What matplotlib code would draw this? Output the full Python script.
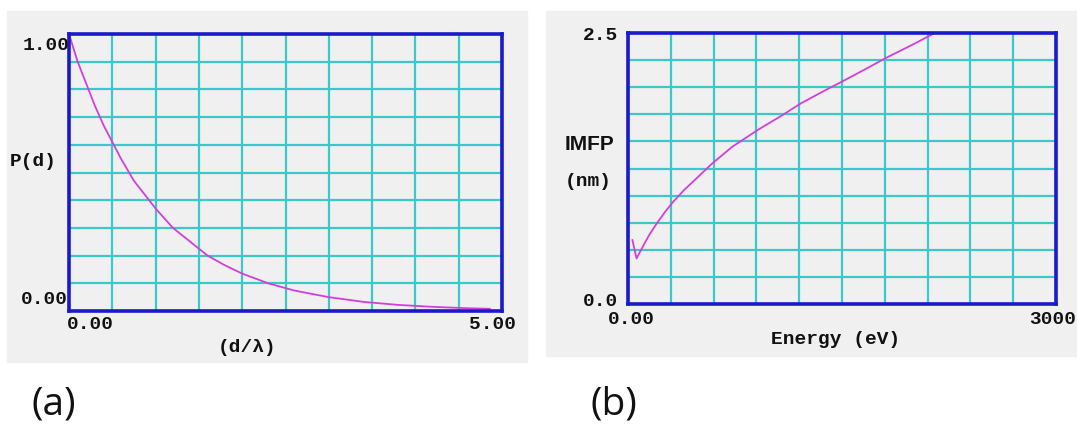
import numpy as np
import matplotlib
matplotlib.use("Agg")
import matplotlib.pyplot as plt
from matplotlib.patches import Rectangle

# (a) attenuation probability vs depth
d_ratio = [0.0, 0.1, 0.2, 0.3, 0.4, 0.5, 0.6, 0.75, 0.9, 1.0, 1.2, 1.4, 1.6, 1.8,
           2.0, 2.3, 2.6, 3.0, 3.4, 3.8, 4.2, 4.6, 4.86]
p_d = [1.00, 0.90, 0.82, 0.74, 0.67, 0.61, 0.55, 0.47, 0.41, 0.37, 0.30, 0.25, 0.20, 0.165,
       0.135, 0.10, 0.074, 0.05, 0.033, 0.022, 0.015, 0.010, 0.008]

# (b) inelastic mean free path vs energy
energy = [31, 60, 100, 150, 200, 260, 315, 392, 489, 585, 730, 915, 1067, 1211,
          1380, 1512, 1669, 1808, 2006, 2150]
imfp = [0.59, 0.42, 0.52, 0.64, 0.74, 0.85, 0.94, 1.05, 1.17, 1.29, 1.45, 1.61, 1.73, 1.85,
        1.97, 2.06, 2.17, 2.27, 2.40, 2.50]

W, H = 1077, 427
BG = "#f0f0f0"
BORDER = "#1a1ac8"
GRID = "#3cc8c8"
CURVE = "#d040d8"
MONO = "Liberation Mono"

fig = plt.figure(figsize=(W / 100, H / 100), dpi=100)
fig.patch.set_facecolor("white")


def px_rect(x0, y0, x1, y1):
    return [x0 / W, 1 - y1 / H, (x1 - x0) / W, (y1 - y0) / H]


def put(x, y, s, ha="center", **kw):
    fig.text(x / W, 1 - y / H, s, ha=ha, va="center", **kw)


# gray panel backgrounds (kept under the axes)
fig.patches.append(Rectangle((7 / W, 1 - 363 / H), 520 / W, 351 / H,
                             transform=fig.transFigure, color=BG, zorder=-10))
fig.patches.append(Rectangle((546 / W, 1 - 357 / H), 531 / W, 345 / H,
                             transform=fig.transFigure, color=BG, zorder=-10))


def style_axes(ax, xmax, ymax):
    ax.set_facecolor(BG)
    ax.set_xlim(0, xmax)
    ax.set_ylim(0, ymax)
    ax.set_xticks(np.linspace(0, xmax, 11))
    ax.set_yticks(np.linspace(0, ymax, 11))
    ax.tick_params(length=0, labelbottom=False, labelleft=False)
    ax.grid(True, color=GRID, linewidth=1.6)
    ax.set_axisbelow(True)
    for sp in ax.spines.values():
        sp.set_color(BORDER)
        sp.set_linewidth(2.6)


ax1 = fig.add_axes(px_rect(69, 35, 502, 312))
style_axes(ax1, 5.0, 1.0)
ax1.plot(d_ratio, p_d, color=CURVE, linewidth=1.3, clip_on=False)

ax2 = fig.add_axes(px_rect(628, 34, 1056, 305))
style_axes(ax2, 3000, 2.5)
ax2.plot(energy, imfp, color=CURVE, linewidth=1.3)

tk = dict(family=MONO, fontweight="bold", fontsize=14, color="#111111")

# labels for (a)
put(46, 46, "1.00", **tk)
put(44, 300, "0.00", **tk)
put(33, 162, "P(d)", **tk)
put(90, 325, "0.00", **tk)
put(493, 325, "5.00", **tk)
put(247, 348, "(d/λ)", **tk)

# labels for (b)
put(600, 35, "2.5", **tk)
put(600, 302, "0.0", **tk)
put(631, 320, "0.00", **tk)
put(1053, 320, "3000", **tk)
put(836, 340, "Energy (eV)", **tk)
put(590, 145, "IMFP", family="Liberation Sans", fontweight="bold", fontsize=15, color="#111111")
put(588, 182, "(nm)", **tk)

# panel tags
put(54, 405, "(a)", family="Open Sans", fontsize=28, color="#111111")
put(614, 405, "(b)", family="Open Sans", fontsize=28, color="#111111")

fig.savefig("out.png", dpi=100)
